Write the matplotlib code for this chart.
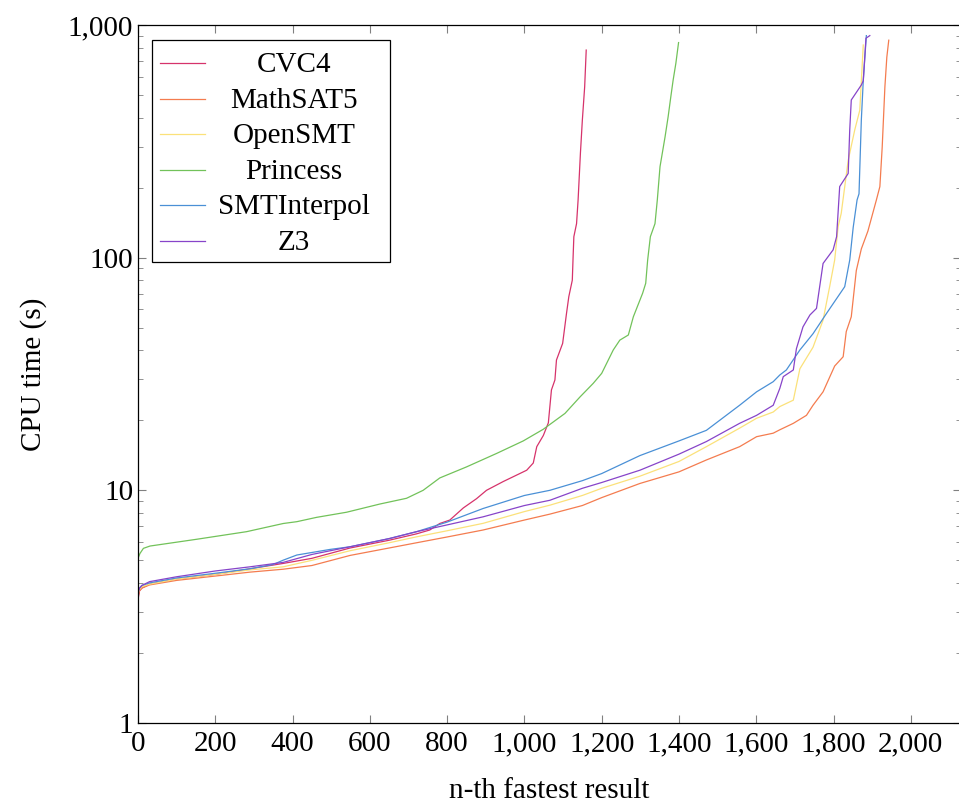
import matplotlib.pyplot as plt
from matplotlib.patches import Rectangle
from matplotlib.ticker import FuncFormatter, LogLocator, MultipleLocator

# n-th fastest result -> CPU time (s)
cvc4_n = [0, 4, 10, 30, 100, 200, 290, 376, 450, 549, 650, 721, 755, 781, 807, 842, 876, 902, 945,
          988, 1006, 1023, 1032, 1049, 1062, 1070, 1079, 1083, 1099, 1109, 1115, 1124, 1126, 1128,
          1135, 1139, 1145, 1150, 1156, 1160]
cvc4_t = [3.4, 3.7, 3.8, 3.95, 4.15, 4.35, 4.6, 4.85, 5.1, 5.65, 6.1, 6.5, 6.75, 7.2, 7.45, 8.4, 9.2,
          10.0, 10.9, 11.8, 12.2, 13.1, 15.4, 17.2, 19.5, 27, 29.8, 36.3, 42.8, 57.6, 68, 80, 100,
          123, 140, 177, 281, 390, 542, 780]

mathsat_n = [0, 4, 10, 30, 100, 200, 290, 376, 450, 549, 650, 721, 800, 893, 1000, 1066, 1150, 1200,
             1299, 1400, 1471, 1557, 1601, 1644, 1661, 1696, 1730, 1747, 1773, 1803, 1825, 1833,
             1846, 1859, 1872, 1889, 1911, 1920, 1926, 1933, 1938, 1943]
mathsat_t = [3.5, 3.7, 3.8, 3.92, 4.1, 4.28, 4.45, 4.58, 4.75, 5.25, 5.65, 5.95, 6.3, 6.75, 7.45,
             7.9, 8.6, 9.3, 10.7, 12.0, 13.5, 15.4, 17.0, 17.6, 18.2, 19.4, 21.0, 23.2, 26.5, 34.2,
             37.5, 48.1, 55.7, 88, 109, 130, 177, 202, 298, 542, 727, 860]

opensmt_n = [0, 4, 10, 30, 100, 200, 290, 376, 450, 549, 650, 721, 800, 893, 1000, 1066, 1150,
             1200, 1299, 1400, 1471, 1557, 1601, 1644, 1661, 1696, 1713, 1747, 1773, 1790, 1803,
             1812, 1820, 1838, 1855, 1868, 1877]
opensmt_t = [3.6, 3.75, 3.85, 3.95, 4.15, 4.35, 4.55, 4.69, 5.0, 5.5, 5.95, 6.31, 6.7, 7.21, 8.1,
             8.63, 9.5, 10.2, 11.5, 13.3, 15.4, 18.5, 20.4, 21.7, 22.9, 24.4, 33.3, 41.2, 53.9, 75,
             97.6, 136, 155, 262, 354, 430, 820]

princess_n = [0, 5, 14, 31, 152, 281, 376, 411, 462, 540, 626, 695, 738, 781, 850, 928, 997, 1049,
              1105, 1144, 1178, 1200, 1230, 1247, 1269, 1282, 1306, 1314, 1319, 1326, 1338, 1344,
              1351, 1364, 1372, 1379, 1385, 1392, 1399]
princess_t = [5.1, 5.35, 5.63, 5.76, 6.16, 6.64, 7.2, 7.33, 7.65, 8.05, 8.73, 9.24, 10.0, 11.3,
              12.6, 14.4, 16.3, 18.3, 21.4, 25.2, 28.8, 31.8, 40.1, 44.2, 46.5, 55.7, 70.3, 77.6,
              97.6, 123, 140, 177, 246, 330, 403, 492, 580, 684, 840]

smtinterpol_n = [0, 4, 10, 30, 100, 200, 290, 350, 376, 411, 497, 549, 650, 721, 800, 893, 1000,
                 1066, 1150, 1200, 1299, 1400, 1471, 1557, 1601, 1644, 1661, 1678, 1713, 1747,
                 1782, 1829, 1842, 1851, 1861, 1866, 1872, 1877, 1885]
smtinterpol_t = [3.7, 3.8, 3.9, 4.0, 4.2, 4.4, 4.6, 4.8, 5.01, 5.27, 5.57, 5.72, 6.2, 6.64, 7.3,
                 8.35, 9.5, 10.0, 11.0, 11.8, 14.1, 16.3, 18.1, 23.2, 26.5, 29.3, 31.3, 32.9, 40.1,
                 47.1, 57.6, 75, 97.6, 135, 177, 188, 390, 575, 900]

z3_n = [0, 4, 10, 30, 100, 200, 290, 376, 450, 549, 650, 721, 800, 893, 1000, 1066, 1150, 1200,
        1299, 1400, 1471, 1557, 1601, 1644, 1661, 1670, 1696, 1704, 1721, 1739, 1756, 1773, 1799,
        1808, 1816, 1838, 1842, 1846, 1872, 1877, 1884, 1894]
z3_t = [3.6, 3.8, 3.9, 4.05, 4.25, 4.5, 4.69, 4.9, 5.3, 5.72, 6.2, 6.64, 7.1, 7.69, 8.6, 9.06,
        10.2, 10.8, 12.2, 14.3, 16.2, 19.4, 21.0, 23.2, 27.4, 30.8, 32.9, 40.6, 50.4, 56.7, 60.5,
        94.4, 108, 123, 202, 230, 354, 476, 552, 575, 877, 900]

solvers = ["CVC4", "MathSAT5", "OpenSMT", "Princess", "SMTInterpol", "Z3"]
colors = ["#d6336b", "#f47c4f", "#fbe17a", "#72c25a", "#4a90d6", "#8744c9"]
series_n = [cvc4_n, mathsat_n, opensmt_n, princess_n, smtinterpol_n, z3_n]
series_t = [cvc4_t, mathsat_t, opensmt_t, princess_t, smtinterpol_t, z3_t]

plt.rcParams['font.family'] = ['Liberation Serif', 'DejaVu Serif']
FS = 21

fig = plt.figure(figsize=(9.59, 8.05), dpi=100)
ax = fig.add_axes([0.1439, 0.1019, 0.8582, 0.8671])

for name, col, xs, ys in zip(solvers, colors, series_n, series_t):
    ax.plot(xs, ys, color=col, linewidth=0.9, label=name)

ax.set_yscale('log')
ax.set_xlim(0, 2130)
ax.set_ylim(1, 1000)
ax.xaxis.set_major_locator(MultipleLocator(200))
ax.yaxis.set_major_locator(LogLocator(base=10))
ax.yaxis.set_minor_locator(LogLocator(base=10, subs=range(2, 10)))
comma = FuncFormatter(lambda v, pos: f"{v:,.0f}")
ax.xaxis.set_major_formatter(comma)
ax.yaxis.set_major_formatter(comma)
ax.tick_params(which='both', direction='in', top=True, right=True, color='#808080',
               labelsize=FS)
ax.tick_params(which='major', length=6, width=0.8)
ax.tick_params(which='minor', length=3.5, width=0.6)
ax.tick_params(axis='x', pad=6)
for sp in ax.spines.values():
    sp.set_linewidth(0.9)

ax.set_xlabel("n-th fastest result", fontsize=FS, labelpad=15)
ax.set_ylabel("CPU time (s)", fontsize=FS, labelpad=15)

# legend in the pgfplots style: short line, label centred in its column
ax.add_patch(Rectangle((0.017, 0.6605), 0.289, 0.318, transform=ax.transAxes,
                       facecolor='white', edgecolor='black', linewidth=0.9, zorder=5))
row0, step = 0.9455, 0.0510
for i, (name, col) in enumerate(zip(solvers, colors)):
    y = row0 - i * step
    ax.plot([0.027, 0.0815], [y, y], transform=ax.transAxes, color=col,
            linewidth=0.9, zorder=6)
    ax.text(0.1896, y - 0.0130, name, transform=ax.transAxes, ha='center',
            va='baseline', fontsize=FS, zorder=6)

fig.savefig("out.png", dpi=100)
